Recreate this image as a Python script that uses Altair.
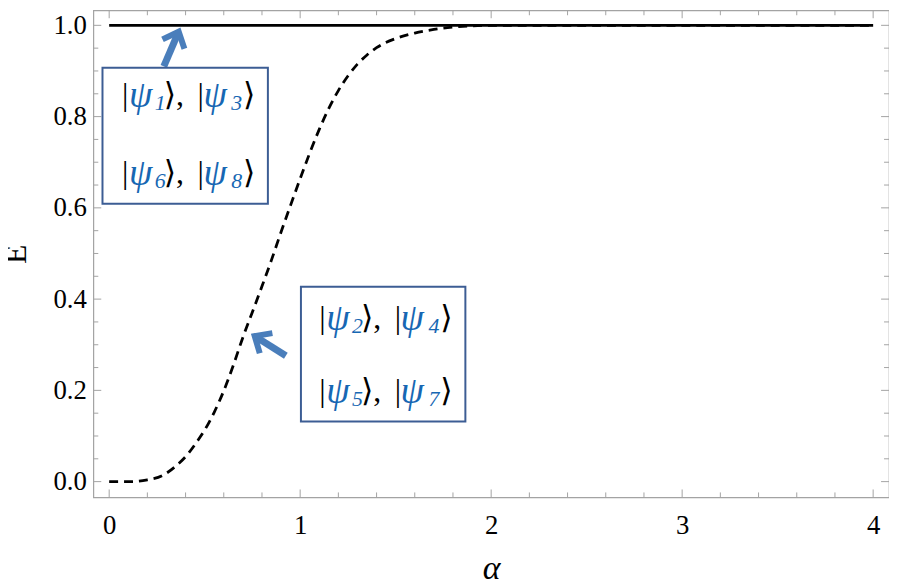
import altair as alt
import pandas as pd

# ---- data ----
curve_alpha = [0.0, 0.12, 0.2, 0.277, 0.346, 0.407, 0.462, 0.5, 0.55, 0.6, 0.65, 0.7,
               0.75, 0.8, 0.85, 0.9, 0.95, 1.0, 1.05, 1.1, 1.15, 1.2, 1.25, 1.3, 1.35,
               1.4, 1.5, 1.6, 1.7, 1.8, 1.9, 2.0, 2.5, 3.0, 3.5, 4.0]
curve_E = [0.0, 0.0, 0.004, 0.013, 0.033, 0.058, 0.089, 0.113, 0.152, 0.199, 0.255, 0.316,
           0.372, 0.428, 0.486, 0.547, 0.606, 0.664, 0.72, 0.772, 0.818, 0.857, 0.889,
           0.915, 0.935, 0.951, 0.971, 0.983, 0.991, 0.996, 0.999, 1.0, 1.0, 1.0, 1.0, 1.0]
solid_alpha = [0.0, 4.0]
solid_E = [1.0, 1.0]

x_ticks = [0, 1, 2, 3, 4]
x_minor = [round(i * 0.2, 1) for i in range(21) if i % 5 != 0]
y_ticks = [0.0, 0.2, 0.4, 0.6, 0.8, 1.0]
y_minor = [round(i * 0.05, 2) for i in range(21) if i % 4 != 0]

# annotation boxes (data coordinates)
box_a1 = [-0.035, 1.004]
box_a2 = [0.831, 1.865]
box_E1 = [0.907, 0.427]
box_E2 = [0.609, 0.132]

# text lines inside boxes
line_a = [0.0675, 0.0675, 1.10, 1.10]
line_E = [0.848, 0.676, 0.359, 0.198]
sub_first = ["1", "6", "2", "5"]
sub_second = ["3", "8", "4", "7"]

# arrows
arrow_tail_a = [0.286, 0.925]
arrow_tail_E = [0.91, 0.276]
arrow_tip_a = [0.364, 0.762]
arrow_tip_E = [0.986, 0.319]
arrow_angle = [23, 302]

SERIF = "Liberation Serif, Times New Roman, DejaVu Serif, serif"
BLUE_TXT = "#1767b3"
BLUE_ARROW = "#4a7ebb"
BOX_STROKE = "#3c5d94"
FRAME = "#a3a3a3"
W, H = 802, 491

xscale = alt.Scale(domain=[-0.083, 4.083], nice=False, zero=False)
yscale = alt.Scale(domain=[-0.0346, 1.033], nice=False, zero=False)

xaxis = alt.Axis(values=x_ticks, format="d", ticks=False, domain=False, grid=False,
                 labelFont=SERIF, labelFontSize=27, labelColor="black",
                 labelPadding=15, labelFlush=False,
                 title="α", titleFont=SERIF, titleFontStyle="italic",
                 titleFontSize=34, titleFontWeight="normal", titleColor="black",
                 titleBaseline="alphabetic", titleY=82)
yaxis = alt.Axis(values=y_ticks, format=".1f", ticks=False, domain=False, grid=False,
                 labelFont=SERIF, labelFontSize=27, labelColor="black",
                 labelPadding=7, labelFlush=False,
                 title="E", titleFont=SERIF, titleFontSize=32,
                 titleFontWeight="normal", titleColor="black", titleAngle=270,
                 titleBaseline="middle", titleX=-78)


def X(f):
    return alt.X(f, type="quantitative", scale=xscale, axis=xaxis)


def Y(f):
    return alt.Y(f, type="quantitative", scale=yscale, axis=yaxis)


curve_df = pd.DataFrame({"a": curve_alpha, "E": curve_E})
solid_df = pd.DataFrame({"a": solid_alpha, "E": solid_E})

dashed = alt.Chart(curve_df).mark_line(color="black", strokeWidth=2.8, strokeDash=[9, 6],
                                       interpolate="monotone").encode(x=X("a"), y=Y("E"))
solid = alt.Chart(solid_df).mark_line(color="black", strokeWidth=2.8).encode(x=X("a"), y=Y("E"))


# frame ticks (inward)
def xt(vals, ln, top):
    df = pd.DataFrame({"a": vals})
    if top:
        return alt.Chart(df).mark_rule(color=FRAME, strokeWidth=1).encode(
            x=X("a"), y=alt.value(0), y2=alt.value(ln))
    return alt.Chart(df).mark_rule(color=FRAME, strokeWidth=1).encode(
        x=X("a"), y=alt.value(H), y2=alt.value(H - ln))


def yt(vals, ln, right):
    df = pd.DataFrame({"E": vals})
    if right:
        return alt.Chart(df).mark_rule(color=FRAME, strokeWidth=1).encode(
            y=Y("E"), x=alt.value(W), x2=alt.value(W - ln))
    return alt.Chart(df).mark_rule(color=FRAME, strokeWidth=1).encode(
        y=Y("E"), x=alt.value(0), x2=alt.value(ln))


ticks = [xt(x_ticks, 8, False), xt(x_minor, 5, False), xt(x_ticks, 8, True), xt(x_minor, 5, True),
         yt(y_ticks, 8, False), yt(y_minor, 5, False), yt(y_ticks, 8, True), yt(y_minor, 5, True)]

# boxes
box_df = pd.DataFrame({"a1": box_a1, "a2": box_a2, "E1": box_E1, "E2": box_E2})
boxes = alt.Chart(box_df).mark_rect(fill="white", stroke=BOX_STROKE, strokeWidth=2).encode(
    x=X("a1"), x2="a2", y=Y("E1"), y2="E2")

# text segments
lines_df = pd.DataFrame({"a": line_a, "E": line_E, "s1": sub_first, "s2": sub_second,
                         "bar": ["|"] * 4, "psi": ["ψ"] * 4, "k1": ["⟩,"] * 4, "k2": ["⟩"] * 4})
segments = [
    ("bar", 0, "black", 32, "normal", 0),
    ("psi", 7, BLUE_TXT, 38, "italic", 1),
    ("s1", 33, BLUE_TXT, 22, "italic", 8),
    ("k1", 42, "black", 32, "normal", 0),
    ("bar", 76, "black", 32, "normal", 0),
    ("psi", 82, BLUE_TXT, 38, "italic", 1),
    ("s2", 110, BLUE_TXT, 22, "italic", 8),
    ("k2", 122, "black", 32, "normal", 0),
]
texts = []
for field, dx, col, fs, style, dy in segments:
    texts.append(alt.Chart(lines_df).mark_text(
        align="left", baseline="middle", dx=dx, dy=dy, color=col, fontSize=fs,
        fontStyle=style, font=SERIF).encode(
        x=X("a"), y=Y("E"), text=alt.Text(field, type="nominal")))

# arrows
arrow_df = pd.DataFrame({"ta": arrow_tail_a, "tE": arrow_tail_E, "pa": arrow_tip_a,
                         "pE": arrow_tip_E, "ang": arrow_angle})
shafts = alt.Chart(arrow_df).mark_rule(color=BLUE_ARROW, strokeWidth=7, strokeCap="butt").encode(
    x=X("ta"), y=Y("tE"), x2="pa", y2="pE")
heads = alt.Chart(arrow_df).mark_point(
    shape="M -0.8 0.9 L 0 0 L 0.8 0.9", filled=False, size=900, strokeWidth=6,
    color=BLUE_ARROW, opacity=1, strokeJoin="miter").encode(
    x=X("pa"), y=Y("pE"), angle=alt.Angle("ang:Q", scale=None))

chart = alt.layer(dashed, solid, *ticks, shafts, heads, boxes, *texts).properties(
    width=W, height=H,
    padding={"left": 86, "top": 0, "right": 0, "bottom": 88},
    autosize=alt.AutoSizeParams(type="none"),
).configure_view(stroke=FRAME, strokeWidth=1.2).configure_axis(
    labelFont=SERIF, titleFont=SERIF
).configure_text(font=SERIF)

chart.save("out.html", embed_options={"renderer": "svg", "actions": False})
